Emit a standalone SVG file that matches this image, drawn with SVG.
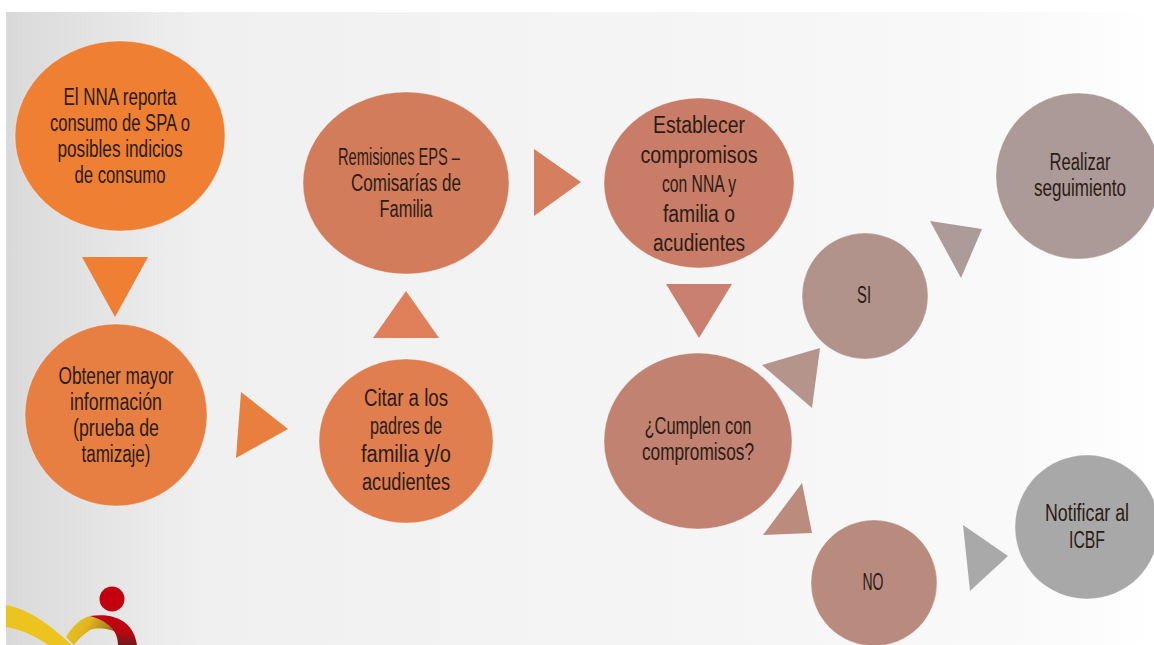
<svg xmlns="http://www.w3.org/2000/svg" width="1154" height="645" viewBox="0 0 1154 645">
<defs>
<linearGradient id="bg" x1="0" y1="0" x2="1" y2="0"><stop offset="0" stop-color="#d9d9d9"/><stop offset="0.17" stop-color="#f0f0f0"/><stop offset="0.45" stop-color="#f3f3f3"/><stop offset="0.88" stop-color="#f9f9f9"/><stop offset="1" stop-color="#ffffff"/></linearGradient>
<linearGradient id="arm" x1="0" y1="0" x2="1" y2="0.3"><stop offset="0" stop-color="#eec61e"/><stop offset="0.45" stop-color="#e2b51f"/><stop offset="1" stop-color="#8c6a20"/></linearGradient>
<linearGradient id="red" x1="0" y1="0" x2="0" y2="1"><stop offset="0" stop-color="#c4000f"/><stop offset="0.6" stop-color="#b80812"/><stop offset="1" stop-color="#6e1a1c"/></linearGradient>
</defs>
<style>
text{font-family:"Liberation Sans",Arial,sans-serif;font-size:23px;fill:#2a1c14;text-anchor:middle}
ellipse{stroke:#ffffff;stroke-opacity:.35;stroke-width:1}
</style>
<rect width="1154" height="645" fill="#fff"/>
<rect x="6" y="12" width="1148" height="633" fill="url(#bg)"/>
<g id="logo">
<path d="M6 605C30 609 52 627 72 645L48 645C36 636 20 629 6 627Z" fill="#edc41f"/>
<path d="M66 637C73 625 82 618 90 616L116 623L120 634C112 629 98 627 90 630C84 634 78 639 74 645Z" fill="url(#arm)"/>
<path d="M90 616C115 612 134 622 137 645L118 645C118 634 112 622 90 616Z" fill="url(#red)"/>
<circle cx="112" cy="599" r="12.5" fill="#c4000f"/>
</g>
<g id="connectors">
<polygon points="82,257 148,257 115,317" fill="#ee7f33"/>
<polygon points="241,392 288,429 236,458" fill="#e87f3f"/>
<polygon points="406,291 439,338 373,338" fill="#e0805a"/>
<polygon points="534,149 581,182 534,216" fill="#d67f5f"/>
<polygon points="666,284 732,284 699,338" fill="#c98070"/>
<polygon points="762,365 820,348 812,408" fill="#b5958b"/>
<polygon points="930,221 982,229 961,278" fill="#ad9b9a"/>
<polygon points="802,483 812,533 763,535" fill="#bb8b7e"/>
<polygon points="963,525 1008,556 970,591" fill="#a9a9a9"/>
</g>
<g id="n1"><ellipse cx="120" cy="136" rx="105" ry="95" fill="#ef7f33"/>
<text x="120" y="105" textLength="113" lengthAdjust="spacingAndGlyphs">El NNA reporta</text>
<text x="120" y="131" textLength="140" lengthAdjust="spacingAndGlyphs">consumo de SPA o</text>
<text x="120" y="157" textLength="125" lengthAdjust="spacingAndGlyphs">posibles indicios</text>
<text x="120" y="183" textLength="91" lengthAdjust="spacingAndGlyphs">de consumo</text></g>
<g id="n2"><ellipse cx="116" cy="415" rx="91" ry="91" fill="#e87f42"/>
<text x="116" y="384" textLength="115" lengthAdjust="spacingAndGlyphs">Obtener mayor</text>
<text x="116" y="410" textLength="92" lengthAdjust="spacingAndGlyphs">información</text>
<text x="116" y="436" textLength="86" lengthAdjust="spacingAndGlyphs">(prueba de</text>
<text x="116" y="462" textLength="69" lengthAdjust="spacingAndGlyphs">tamizaje)</text></g>
<g id="n3"><ellipse cx="406" cy="441" rx="87" ry="82" fill="#e07e50"/>
<text x="406" y="406" textLength="84" lengthAdjust="spacingAndGlyphs">Citar a los</text>
<text x="406" y="434" textLength="72" lengthAdjust="spacingAndGlyphs">padres de</text>
<text x="406" y="462" textLength="90" lengthAdjust="spacingAndGlyphs">familia y/o</text>
<text x="406" y="490" textLength="88" lengthAdjust="spacingAndGlyphs">acudientes</text></g>
<g id="n4"><ellipse cx="406" cy="183" rx="103" ry="91" fill="#d37c5c"/>
<text x="399" y="165" textLength="122" lengthAdjust="spacingAndGlyphs">Remisiones EPS –</text>
<text x="406" y="191" textLength="110" lengthAdjust="spacingAndGlyphs">Comisarías de</text>
<text x="406" y="217" textLength="53" lengthAdjust="spacingAndGlyphs">Familia</text></g>
<g id="n5"><ellipse cx="699" cy="183" rx="95" ry="85" fill="#c97d68"/>
<text x="699" y="133" textLength="92" lengthAdjust="spacingAndGlyphs">Establecer</text>
<text x="699" y="163" textLength="117" lengthAdjust="spacingAndGlyphs">compromisos</text>
<text x="699" y="192" textLength="74" lengthAdjust="spacingAndGlyphs">con NNA y</text>
<text x="699" y="222" textLength="72" lengthAdjust="spacingAndGlyphs">familia o</text>
<text x="699" y="251" textLength="92" lengthAdjust="spacingAndGlyphs">acudientes</text></g>
<g id="n6"><ellipse cx="698" cy="441" rx="94" ry="88" fill="#c18272"/>
<text x="698" y="434" textLength="107" lengthAdjust="spacingAndGlyphs">¿Cumplen con</text>
<text x="698" y="460" textLength="112" lengthAdjust="spacingAndGlyphs">compromisos?</text></g>
<g id="n7"><ellipse cx="865" cy="296" rx="63" ry="63" fill="#b2938c"/>
<text x="864" y="303" textLength="14" lengthAdjust="spacingAndGlyphs">SI</text></g>
<g id="n8"><ellipse cx="1078" cy="176" rx="82" ry="83" fill="#ac9a99"/>
<text x="1080" y="170" textLength="61" lengthAdjust="spacingAndGlyphs">Realizar</text>
<text x="1080" y="196" textLength="92" lengthAdjust="spacingAndGlyphs">seguimiento</text></g>
<g id="n9"><ellipse cx="874" cy="583" rx="63" ry="63" fill="#b98b7e"/>
<text x="873" y="590" textLength="21" lengthAdjust="spacingAndGlyphs">NO</text></g>
<g id="n10"><ellipse cx="1087" cy="527" rx="72" ry="72" fill="#a8a8a8"/>
<text x="1087" y="521" textLength="84" lengthAdjust="spacingAndGlyphs">Notificar al</text>
<text x="1087" y="548" textLength="36" lengthAdjust="spacingAndGlyphs">ICBF</text></g>
</svg>
